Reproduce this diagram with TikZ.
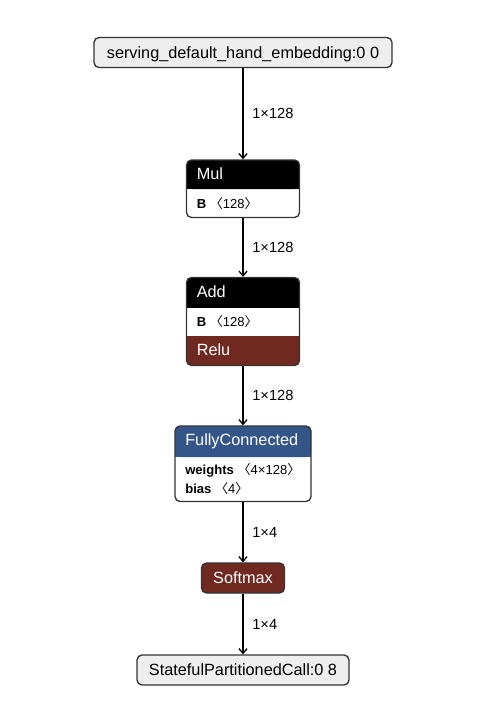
\documentclass[tikz,border=0pt]{standalone}
\usepackage{fontspec}
\setmainfont{Liberation Sans}
\newfontfamily\cjk{Noto Sans CJK SC}
\usetikzlibrary{arrows.meta,fit}
\definecolor{actbrown}{RGB}{112,41,33}
\definecolor{layerblue}{RGB}{51,85,136}
\definecolor{ioface}{RGB}{238,238,238}
\definecolor{boxline}{RGB}{51,51,51}
\newcommand{\shp}[1]{{\cjk 〈}#1{\cjk 〉}}
\begin{document}
\begin{tikzpicture}[x=0.75pt,y=0.75pt,yscale=-1,xscale=1,
    nodebox/.style={draw=boxline, line width=1pt, rounded corners=3.75pt, inner sep=0pt},
    iobox/.style={nodebox, fill=ioface, minimum height=22.5pt, text height=8.7pt, text depth=0pt, font=\fontsize{12.2}{14}\selectfont},
    hdtext/.style={anchor=base west, inner sep=0pt, text=white, font=\fontsize{12.2}{14}\selectfont},
    attr/.style={anchor=base west, inner sep=0pt, font=\fontsize{9.8}{12}\selectfont},
    edge/.style={-{Straight Barb[length=3.5pt,width=6pt]}, line width=1pt},
    dim/.style={midway, right=6.5pt, inner sep=0pt, font=\fontsize{11}{13}\selectfont}]
    %Shape: Background
    \fill[white] (0,0) rectangle (492,713);
    \useasboundingbox (0,0) rectangle (492,713);

    %Shape: Input
    \node[iobox, minimum width=223.5pt] (input) at (243,52.5) {serving\_default\_hand\_embedding:0 0};

    %Shape: Mul
    \fill[black, rounded corners=3.75pt] (186.5,160) rectangle (299.5,189);
    \fill[black] (186.5,175) rectangle (299.5,189);
    % Text Node
    \node[hdtext] (mulT) at (196.5,179.5) {Mul};
    % Text Node
    \node[attr] (mulB) at (196.5,208) {\textbf{B} \shp{128}};
    \node[nodebox, fit={(186.5,160) (299.5,217.5)}] (mul) {};

    %Shape: Add + Relu
    \fill[black, rounded corners=3.75pt] (186.5,277.5) rectangle (299.5,307.5);
    \fill[black] (186.5,292) rectangle (299.5,307.5);
    \fill[actbrown, rounded corners=3.75pt] (186.5,336) rectangle (299.5,365.5);
    \fill[actbrown] (186.5,336) rectangle (299.5,350);
    % Text Node
    \node[hdtext] (addT) at (196.5,297) {Add};
    % Text Node
    \node[attr] (addB) at (196.5,326.4) {\textbf{B} \shp{128}};
    % Text Node
    \node[hdtext] (reluT) at (196.5,355.5) {Relu};
    \node[nodebox, fit={(186.5,277.5) (299.5,365.5)}] (add) {};

    %Shape: FullyConnected
    \fill[layerblue, rounded corners=3.75pt] (175,426) rectangle (311,457);
    \fill[layerblue] (175,441) rectangle (311,457);
    % Text Node
    \node[hdtext] (fcT) at (185,445.5) {FullyConnected};
    % Text Node
    \node[attr] (fcW) at (185,474.5) {\textbf{weights} \shp{4×128}};
    % Text Node
    \node[attr] (fcB) at (185,493) {\textbf{bias} \shp{4}};
    \node[nodebox, fit={(175,426) (311,501.5)}] (fc) {};

    %Shape: Softmax
    \node[iobox, fill=actbrown, text=white, minimum width=62.25pt] (softmax) at (243,578) {Softmax};

    %Shape: Output
    \node[iobox, minimum width=159pt] (output) at (243,670) {StatefulPartitionedCall:0 8};

    %Straight Lines
    \draw[edge] (input) -- (mul) node[dim] {1×128};
    \draw[edge] (mul) -- (add) node[dim] {1×128};
    \draw[edge] (add) -- (fc) node[dim] {1×128};
    \draw[edge] (fc) -- (softmax) node[dim] {1×4};
    \draw[edge] (softmax) -- (output) node[dim] {1×4};
\end{tikzpicture}
\end{document}
